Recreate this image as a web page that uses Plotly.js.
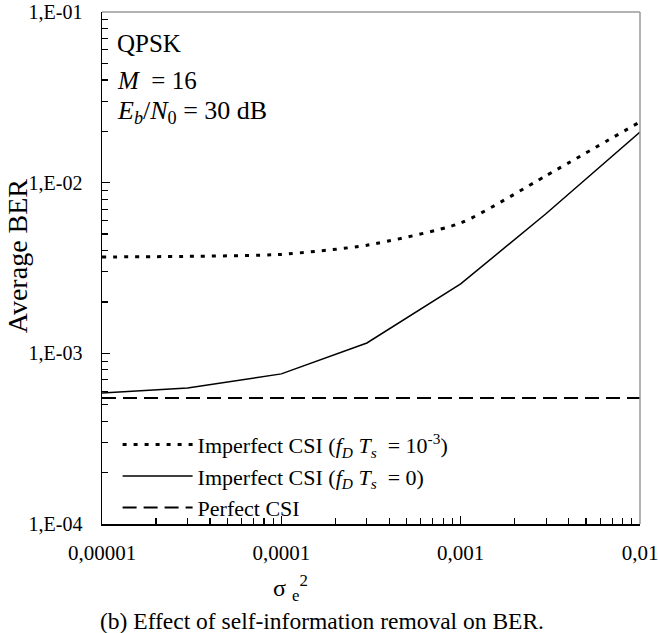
<!DOCTYPE html>
<html><head><meta charset="utf-8">
<script src="https://cdn.plot.ly/plotly-3.0.1.min.js"></script>
<style>
html,body{margin:0;padding:0;background:#fff}
</style>
</head><body><div id="chart" style="width:658px;height:633px"></div>
<script>
const sigmaE2 = [0.00001, 0.00003, 0.0001, 0.0003, 0.001, 0.003, 0.01];
const berImperfect1e3 = [3.67e-3, 3.70e-3, 3.80e-3, 4.30e-3, 5.80e-3, 1.10e-2, 2.27e-2];
const berImperfect0 = [5.86e-4, 6.27e-4, 7.58e-4, 1.15e-3, 2.55e-3, 6.60e-3, 1.98e-2];
const berPerfect = [5.48e-4, 5.48e-4, 5.48e-4, 5.48e-4, 5.48e-4, 5.48e-4, 5.48e-4];
const seriesNames = [
  'Imperfect CSI (<i>f</i><sub><i>D</i></sub> <i>T</i><sub><i>s</i></sub>  = 10<sup>-3</sup>)',
  'Imperfect CSI (<i>f</i><sub><i>D</i></sub> <i>T</i><sub><i>s</i></sub>  = 0)',
  'Perfect CSI'
];
const xTickVals = [1e-5, 1e-4, 1e-3, 1e-2];
const xTickText = ['0,00001', '0,0001', '0,001', '0,01'];
const yTickVals = [1e-4, 1e-3, 1e-2, 1e-1];
const yTickText = ['1,E-04', '1,E-03', '1,E-02', '1,E-01'];
const xMinorVals = [2e-5, 3e-5, 4e-5, 5e-5, 6e-5, 7e-5, 8e-5, 9e-5,
                    2e-4, 3e-4, 4e-4, 5e-4, 6e-4, 7e-4, 8e-4, 9e-4,
                    2e-3, 3e-3, 4e-3, 5e-3, 6e-3, 7e-3, 8e-3, 9e-3];
const yMinorVals = [2e-4, 3e-4, 4e-4, 5e-4, 6e-4, 7e-4, 8e-4, 9e-4,
                    2e-3, 3e-3, 4e-3, 5e-3, 6e-3, 7e-3, 8e-3, 9e-3,
                    2e-2, 3e-2, 4e-2, 5e-2, 6e-2, 7e-2, 8e-2, 9e-2];

const FONT = 'Liberation Serif, Times New Roman, serif';

const traces = [
  {x: sigmaE2, y: berImperfect1e3, name: seriesNames[0], mode: 'lines',
   line: {color: '#000', width: 3, dash: '4px,7px', shape: 'spline', smoothing: 0.6}},
  {x: sigmaE2, y: berImperfect0, name: seriesNames[1], mode: 'lines',
   line: {color: '#000', width: 1.5}},
  {x: sigmaE2, y: berPerfect, name: seriesNames[2], mode: 'lines',
   line: {color: '#000', width: 2, dash: '14px,7px'}}
];

const layout = {
  width: 658, height: 633,
  margin: {l: 102, r: 18, t: 12, b: 109},
  paper_bgcolor: '#fff', plot_bgcolor: '#fff',
  font: {family: FONT, color: '#000', size: 20},
  showlegend: true,
  legend: {x: 0.029, y: -0.009, xanchor: 'left', yanchor: 'bottom',
           bgcolor: 'rgba(0,0,0,0)', font: {family: FONT, size: 22, color: '#000'},
           itemwidth: 70, tracegroupgap: 0},
  xaxis: {type: 'log', range: [-5, -2], tickmode: 'array', tickvals: xTickVals, ticktext: xTickText,
          ticks: 'inside', ticklen: 8, tickcolor: '#000', tickwidth: 1.2, ticklabeloverflow: 'allow',
          showline: true, linecolor: '#000', linewidth: 1.5, showgrid: false, zeroline: false,
          ticklabelstandoff: 9, tickfont: {family: FONT, size: 21, color: '#000'},
          minor: {tickmode: 'array', tickvals: xMinorVals, ticks: 'inside', ticklen: 6, tickcolor: '#000', tickwidth: 1.2, showgrid: false}},
  yaxis: {type: 'log', range: [-4, -1], tickmode: 'array', tickvals: yTickVals, ticktext: yTickText,
          ticks: 'inside', ticklen: 8, tickcolor: '#000', tickwidth: 1.2, ticklabeloverflow: 'allow',
          showline: true, linecolor: '#000', linewidth: 1.5, showgrid: false, zeroline: false,
          ticklabelstandoff: 14, tickfont: {family: FONT, size: 20, color: '#000'},
          minor: {tickmode: 'array', tickvals: yMinorVals, ticks: 'inside', ticklen: 6, tickcolor: '#000', tickwidth: 1.2, showgrid: false}},
  shapes: [
    {type: 'line', xref: 'paper', yref: 'paper', x0: 0, x1: 1, y0: 1, y1: 1, line: {color: '#999', width: 1.5}},
    {type: 'line', xref: 'paper', yref: 'paper', x0: 1, x1: 1, y0: 0, y1: 1, line: {color: '#999', width: 1.5}}
  ],
  annotations: [
    {text: 'QPSK', xref: 'paper', yref: 'paper', x: 0.024, y: 0.939, xanchor: 'left', yanchor: 'middle',
     showarrow: false, font: {family: FONT, size: 25, color: '#000'}},
    {text: '<i>M</i>  = 16', xref: 'paper', yref: 'paper', x: 0.024, y: 0.867, xanchor: 'left', yanchor: 'middle',
     showarrow: false, font: {family: FONT, size: 25, color: '#000'}},
    {text: '<i>E</i><sub><i>b</i></sub>/<i>N</i><sub>0</sub> = 30 dB', xref: 'paper', yref: 'paper', x: 0.024, y: 0.805,
     xanchor: 'left', yanchor: 'middle', showarrow: false, font: {family: FONT, size: 26, color: '#000'}},
    {text: 'Average BER', xref: 'paper', yref: 'paper', x: -0.158, y: 0.525, xanchor: 'center', yanchor: 'middle',
     textangle: -90, showarrow: false, font: {family: FONT, size: 28, color: '#000'}},
    {text: 'σ <sub>e</sub><sup>2</sup>', xref: 'paper', yref: 'paper', x: 0.35, y: -0.125, xanchor: 'center', yanchor: 'middle',
     showarrow: false, font: {family: FONT, size: 24, color: '#000'}},
    {text: '(b) Effect of self-information removal on BER.', xref: 'paper', yref: 'paper', x: 0.408, y: -0.19,
     xanchor: 'center', yanchor: 'middle', showarrow: false, font: {family: FONT, size: 23.5, color: '#000'}}
  ]
};

Plotly.newPlot('chart', traces, layout, {displayModeBar: false, staticPlot: true});
</script></body></html>
